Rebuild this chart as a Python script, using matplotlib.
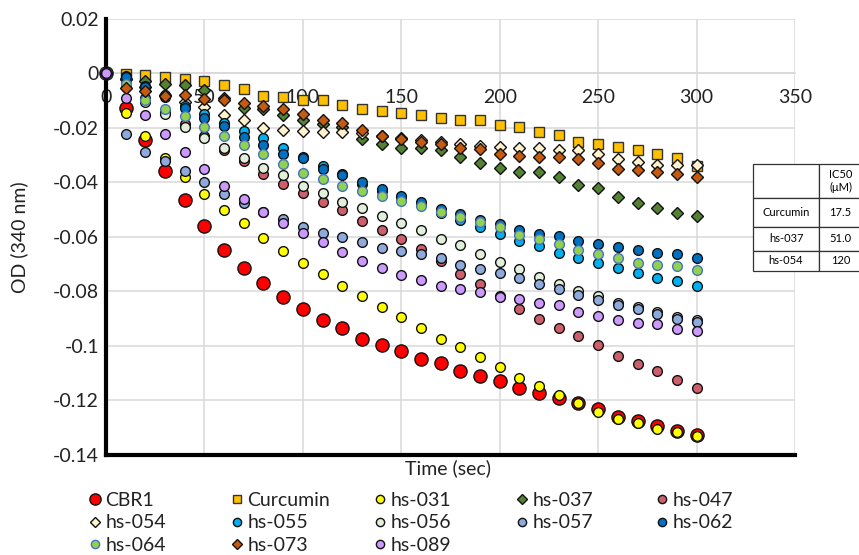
import matplotlib
matplotlib.use('Agg')
import matplotlib.pyplot as plt
import numpy as np

plt.rcParams['font.family'] = ['Lato', 'DejaVu Sans']
plt.rcParams['axes.unicode_minus'] = False

# time points (sec)
time_s = list(range(0, 310, 10))

cbr1 = [0, -0.0128, -0.0245, -0.0358, -0.0463, -0.0558, -0.0646, -0.0714, -0.077, -0.082, -0.0865,
        -0.0903, -0.0933, -0.0973, -0.0997, -0.102, -0.1046, -0.1064, -0.109, -0.1109, -0.1127,
        -0.1153, -0.1171, -0.1189, -0.1209, -0.1233, -0.1259, -0.1276, -0.1294, -0.1313, -0.1327]
curcumin = [0, -0.0002, -0.0007, -0.0013, -0.002, -0.0029, -0.0044, -0.0056, -0.0081, -0.0087, -0.0099,
            -0.0099, -0.0117, -0.0132, -0.0138, -0.0144, -0.0152, -0.0164, -0.017, -0.017, -0.0188,
            -0.0196, -0.0213, -0.0226, -0.025, -0.0258, -0.0269, -0.0281, -0.0295, -0.031, -0.0338]
hs031 = [0, -0.0144, -0.0231, -0.031, -0.0378, -0.0442, -0.0502, -0.055, -0.0602, -0.0652, -0.0696,
         -0.0734, -0.0778, -0.0815, -0.0858, -0.0894, -0.0933, -0.0973, -0.1003, -0.104, -0.1078,
         -0.1116, -0.1145, -0.1178, -0.121, -0.1243, -0.1267, -0.1284, -0.1306, -0.1315, -0.1331]
hs037 = [0, -0.002, -0.0026, -0.004, -0.0042, -0.0062, -0.009, -0.0125, -0.0132, -0.0154, -0.0169,
         -0.0187, -0.0197, -0.024, -0.0257, -0.0275, -0.0275, -0.0281, -0.0306, -0.033, -0.0347,
         -0.036, -0.036, -0.0379, -0.0411, -0.0422, -0.0455, -0.0475, -0.0494, -0.0511, -0.0524]
hs047 = [0, -0.004, -0.009, -0.014, -0.0185, -0.0228, -0.028, -0.032, -0.0367, -0.0404, -0.044,
         -0.0471, -0.0502, -0.054, -0.0576, -0.0609, -0.0643, -0.0689, -0.0735, -0.0771, -0.0817,
         -0.0863, -0.09, -0.0933, -0.0964, -0.0997, -0.1035, -0.1066, -0.1091, -0.1123, -0.1155]
hs054 = [0, -0.002, -0.005, -0.008, -0.0105, -0.0124, -0.0154, -0.0172, -0.02, -0.0206, -0.0212,
         -0.0215, -0.0215, -0.022, -0.0228, -0.0235, -0.0245, -0.025, -0.026, -0.0265, -0.0269,
         -0.0272, -0.0275, -0.0279, -0.0281, -0.0297, -0.0313, -0.0325, -0.0334, -0.0334, -0.0334]
hs055 = [0, -0.001, -0.0045, -0.008, -0.012, -0.015, -0.018, -0.0212, -0.0238, -0.0273, -0.0306,
         -0.034, -0.037, -0.0405, -0.043, -0.0455, -0.048, -0.0512, -0.0539, -0.0564, -0.0588,
         -0.0615, -0.0634, -0.0658, -0.0676, -0.0695, -0.0713, -0.0731, -0.0752, -0.0762, -0.0778]
hs056 = [0, -0.005, -0.0105, -0.015, -0.0195, -0.0235, -0.0274, -0.031, -0.0346, -0.0374, -0.0413,
         -0.0437, -0.0471, -0.0493, -0.0524, -0.055, -0.0576, -0.0609, -0.0631, -0.0661, -0.0692,
         -0.0719, -0.0747, -0.0774, -0.0799, -0.0817, -0.0844, -0.0856, -0.0876, -0.0893, -0.0903]
hs057 = [0, -0.0221, -0.0289, -0.032, -0.0356, -0.0399, -0.0442, -0.0474, -0.051, -0.0533, -0.0563,
         -0.0587, -0.0599, -0.0619, -0.064, -0.065, -0.0664, -0.0676, -0.0701, -0.0719, -0.0731,
         -0.0752, -0.0772, -0.0789, -0.0813, -0.0832, -0.0851, -0.0864, -0.0884, -0.09, -0.0913]
hs062 = [0, -0.0013, -0.005, -0.0087, -0.0127, -0.0164, -0.0191, -0.0232, -0.0264, -0.0295, -0.031,
         -0.035, -0.0374, -0.0399, -0.0423, -0.045, -0.0472, -0.0497, -0.0514, -0.0538, -0.0554,
         -0.0576, -0.0588, -0.0597, -0.0613, -0.0625, -0.0637, -0.0646, -0.0658, -0.0662, -0.0676]
hs064 = [0, -0.004, -0.0099, -0.0132, -0.0157, -0.0195, -0.0231, -0.0264, -0.0294, -0.0332, -0.0365,
         -0.0387, -0.0413, -0.0432, -0.0448, -0.0468, -0.0487, -0.0508, -0.0527, -0.0546, -0.0564,
         -0.0591, -0.0607, -0.0625, -0.0646, -0.0664, -0.0676, -0.0695, -0.0701, -0.0707, -0.0722]
hs073 = [0, -0.0054, -0.0066, -0.0081, -0.0078, -0.0093, -0.0099, -0.0108, -0.012, -0.0132, -0.015,
         -0.0172, -0.0183, -0.0208, -0.0228, -0.0242, -0.0251, -0.0259, -0.0273, -0.0276, -0.0294,
         -0.0301, -0.0306, -0.0306, -0.0313, -0.033, -0.0349, -0.0355, -0.0362, -0.0367, -0.038]
hs089 = [0, -0.0089, -0.0152, -0.0221, -0.0289, -0.0349, -0.0412, -0.0462, -0.0508, -0.0548, -0.0587,
         -0.0619, -0.0656, -0.0689, -0.0713, -0.074, -0.0756, -0.0778, -0.079, -0.0802, -0.082,
         -0.0827, -0.0842, -0.0851, -0.0876, -0.089, -0.0903, -0.0915, -0.0921, -0.0939, -0.0946]

series_names = ['CBR1', 'Curcumin', 'hs-031', 'hs-037', 'hs-047', 'hs-054', 'hs-055',
                'hs-056', 'hs-057', 'hs-062', 'hs-064', 'hs-073', 'hs-089']
series_values = [cbr1, curcumin, hs031, hs037, hs047, hs054, hs055,
                 hs056, hs057, hs062, hs064, hs073, hs089]

xticks = [0, 50, 100, 150, 200, 250, 300, 350]
yticks = [-0.14, -0.12, -0.1, -0.08, -0.06, -0.04, -0.02, 0, 0.02]
ytick_labels = ['-0.14', '-0.12', '-0.1', '-0.08', '-0.06', '-0.04', '-0.02', '0', '0.02']

table_rows = [['', 'IC50\n(\u03bcM)'], ['Curcumin', '17.5'], ['hs-037', '51.0'], ['hs-054', '120']]

# marker, face colour, edge colour, size
styles = {
    'CBR1':     ('o', '#FF0000', '#111111', 9.5),
    'Curcumin': ('s', '#FFC000', '#333333', 7.0),
    'hs-031':   ('o', '#FFFF00', '#111111', 7.0),
    'hs-037':   ('D', '#548235', '#111111', 6.4),
    'hs-047':   ('o', '#CD5F6A', '#111111', 7.0),
    'hs-054':   ('D', '#FFF2CC', '#111111', 6.4),
    'hs-055':   ('o', '#00B0F0', '#111111', 7.0),
    'hs-056':   ('o', '#E2EFDA', '#111111', 7.0),
    'hs-057':   ('o', '#8EA9DB', '#111111', 7.0),
    'hs-062':   ('o', '#0070C0', '#111111', 7.0),
    'hs-064':   ('o', '#92D050', '#4472C4', 7.0),
    'hs-073':   ('D', '#C55A11', '#111111', 6.4),
    'hs-089':   ('o', '#CC99FF', '#111111', 7.0),
}

W, H = 859, 555
fig = plt.figure(figsize=(W / 100, H / 100), dpi=100)
ax = fig.add_axes([106 / W, 1 - 455 / H, (795 - 106) / W, (455 - 19) / H])

handles = []
for name, vals in zip(series_names, series_values):
    m, fc, ec, ms = styles[name]
    h, = ax.plot(time_s, vals, linestyle='none', marker=m, markersize=ms,
                 markerfacecolor=fc, markeredgecolor=ec, markeredgewidth=1.0,
                 clip_on=False, zorder=4, label=name)
    handles.append(h)

ax.set_xlim(0, 350)
ax.set_ylim(-0.14, 0.02)
ax.set_xticks(xticks)
ax.set_yticks(yticks)
ax.set_yticklabels(ytick_labels)
ax.grid(True, color='#D9D9D9', linewidth=1.1, zorder=0)
ax.set_axisbelow(True)

# horizontal axis crosses at y = 0, plot area framed left and bottom
for s in ['top', 'right']:
    ax.spines[s].set_visible(False)
ax.spines['bottom'].set_position(('data', 0))
ax.spines['bottom'].set_color('#D9D9D9')
ax.spines['bottom'].set_linewidth(1.1)
ax.spines['left'].set_linewidth(3.0)
ax.spines['left'].set_color('black')
ax.axhline(-0.14, color='black', linewidth=3.0, clip_on=False, zorder=3)
ax.tick_params(axis='x', length=0, pad=11, labelsize=14, colors='#222222')
ax.tick_params(axis='y', length=0, pad=5, labelsize=14, colors='#222222')

fig.text(448 / W, 1 - 468 / H, 'Time (sec)', ha='center', va='center', fontsize=14, color='#222222')
fig.text(19 / W, 1 - 237 / H, 'OD (340 nm)', ha='center', va='center', rotation=90,
         fontsize=14, color='#222222')

# legend: five columns, row-major like the original
col_x = [95, 237, 380, 522, 662]
for j, cx in enumerate(col_x):
    hs = handles[j::5]
    leg = fig.legend(handles=hs, labels=[h.get_label() for h in hs], loc='upper left',
                     bbox_to_anchor=((cx - 6) / W, 1 - 492 / H), frameon=False,
                     fontsize=14, handlelength=0.6, handletextpad=0.25,
                     borderpad=0, borderaxespad=0, labelspacing=0.28, markerscale=0.85)
    for t in leg.get_texts():
        t.set_color('#222222')

# IC50 table
tab_ax = fig.add_axes([753 / W, 1 - 271 / H, 109 / W, (271 - 164) / H])
tab_ax.axis('off')
tab = tab_ax.table(cellText=table_rows, cellLoc='center', bbox=[0, 0, 1, 1],
                   colWidths=[66, 43])
tab.auto_set_font_size(False)
tab.set_fontsize(8)
row_h = [34, 28, 24, 20]
for (r, c), cell in tab.get_celld().items():
    cell.set_height(row_h[r])
    cell.set_edgecolor('#333333')
    cell.set_linewidth(0.9)

fig.savefig('out.png', dpi=100)
